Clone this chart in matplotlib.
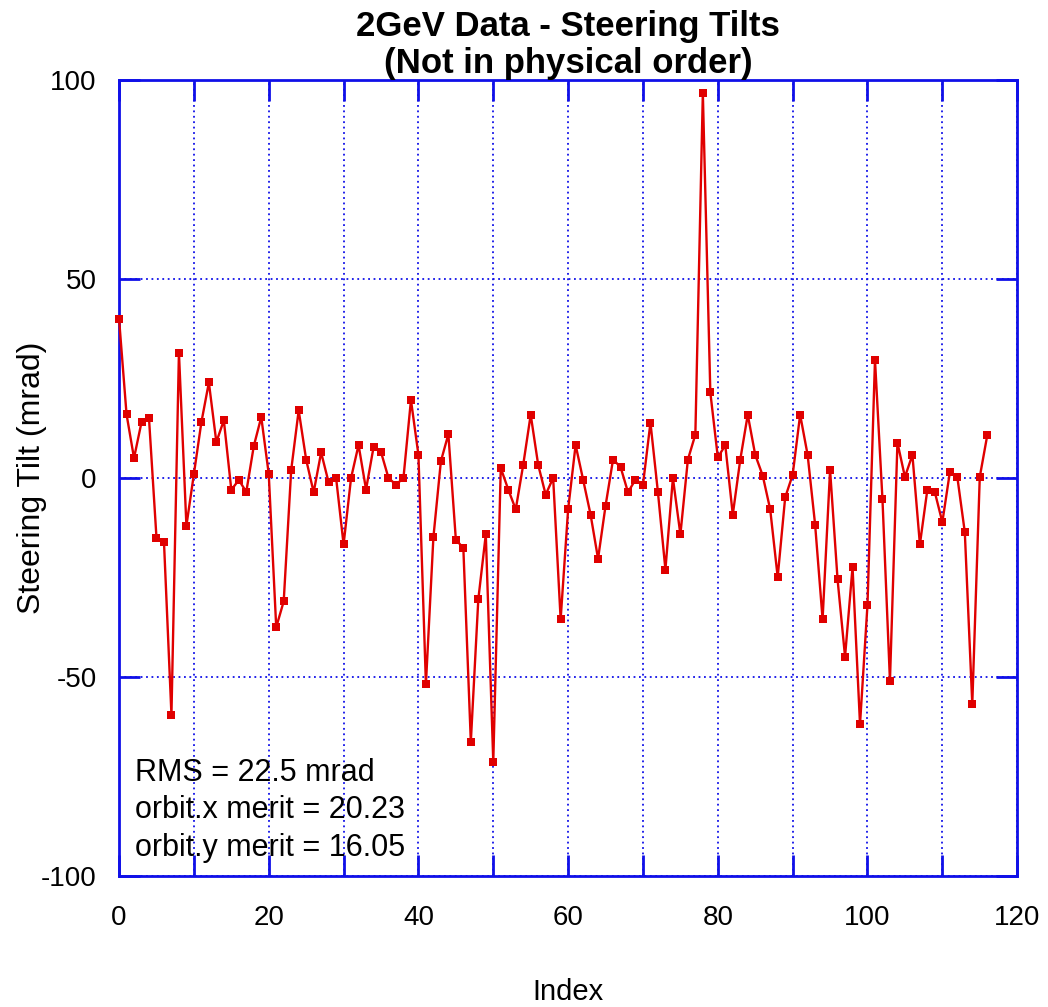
import matplotlib.pyplot as plt

# steering tilt per corrector, mrad (index 0..116)
tilts = [40, 16, 5, 14, 15, -15, -16, -59.5, 31.5, -12,
         1, 14, 24, 9, 14.5, -3, -0.5, -3.5, 8, 15.3,
         1, -37.5, -31, 2, 17, 4.6, -3.6, 6.4, -1.1, 0,
         -16.7, 0, 8.3, -2.9, 7.7, 6.5, 0, -1.7, 0, 19.6,
         5.8, -51.8, -14.9, 4.2, 11, -15.5, -17.6, -66.3, -30.5, -14.2,
         -71.3, 2.5, -2.9, -7.9, 3.3, 15.9, 3.3, -4.2, 0, -35.5,
         -7.9, 8.3, -0.4, -9.2, -20.3, -7, 4.6, 2.8, -3.6, -0.4,
         -1.7, 13.9, -3.6, -23, 0, -14.2, 4.6, 10.9, 96.7, 21.5,
         5.2, 8.2, -9.2, 4.6, 15.9, 5.8, 0.6, -7.9, -24.9, -4.9,
         0.8, 15.9, 5.8, -11.7, -35.5, 2, -25.5, -44.9, -22.4, -61.9,
         -31.8, 29.7, -5.4, -51, 8.9, 0.25, 5.8, -16.7, -2.9, -3.6,
         -11.1, 1.4, 0.25, -13.6, -56.8, 0.25, 10.7]
index = list(range(len(tilts)))

stats = ["RMS = 22.5 mrad", "orbit.x merit = 20.23", "orbit.y merit = 16.05"]

x_ticks = [0, 20, 40, 60, 80, 100, 120]
y_ticks = [-100, -50, 0, 50, 100]

BLUE = "#1010e8"


def main():
    plt.rcParams['font.family'] = ['Liberation Sans', 'DejaVu Sans']
    plt.rcParams['axes.unicode_minus'] = False
    fig = plt.figure(figsize=(10.48, 10.07), dpi=100)
    ax = fig.add_axes([0.1136, 0.1301, 0.857, 0.7905])

    ax.plot(index, tilts, "-s", color="#e00000", lw=1.7, markersize=5.5,
            markeredgewidth=0, zorder=3, clip_on=False)

    ax.set_xlim(0, 120)
    ax.set_ylim(-100, 100)
    ax.set_xticks(x_ticks)
    ax.set_xticks(range(0, 121, 10), minor=True)
    ax.set_yticks(y_ticks)

    ax.grid(True, which="both", axis="x", color=BLUE, linestyle=(0, (1, 2)), lw=1.3)
    ax.grid(True, which="major", axis="y", color=BLUE, linestyle=(0, (1, 2)), lw=1.3)

    for s in ax.spines.values():
        s.set_color(BLUE)
        s.set_linewidth(2)
    ax.tick_params(which="both", direction="in", length=15, width=2, color=BLUE,
                   top=True, right=True, labelsize=20)
    ax.tick_params(axis="x", pad=21)
    ax.tick_params(axis="y", pad=16)

    ax.set_xlabel("Index", fontsize=21)
    ax.xaxis.set_label_coords(0.5, -0.1457)
    ax.xaxis.label.set_verticalalignment("center")
    ax.set_ylabel("Steering Tilt (mrad)", fontsize=23)
    ax.yaxis.set_label_coords(-0.0972, 0.5)
    ax.yaxis.label.set_verticalalignment("center")

    ax.set_title("2GeV Data - Steering Tilts\n(Not in physical order)",
                 fontsize=25, fontweight="bold", pad=2, linespacing=1.15)

    ax.text(2.1, -70.3, "\n".join(stats), fontsize=22, va="top", ha="left",
            linespacing=1.33)

    fig.savefig("out.png", dpi=100)


if __name__ == "__main__":
    main()
